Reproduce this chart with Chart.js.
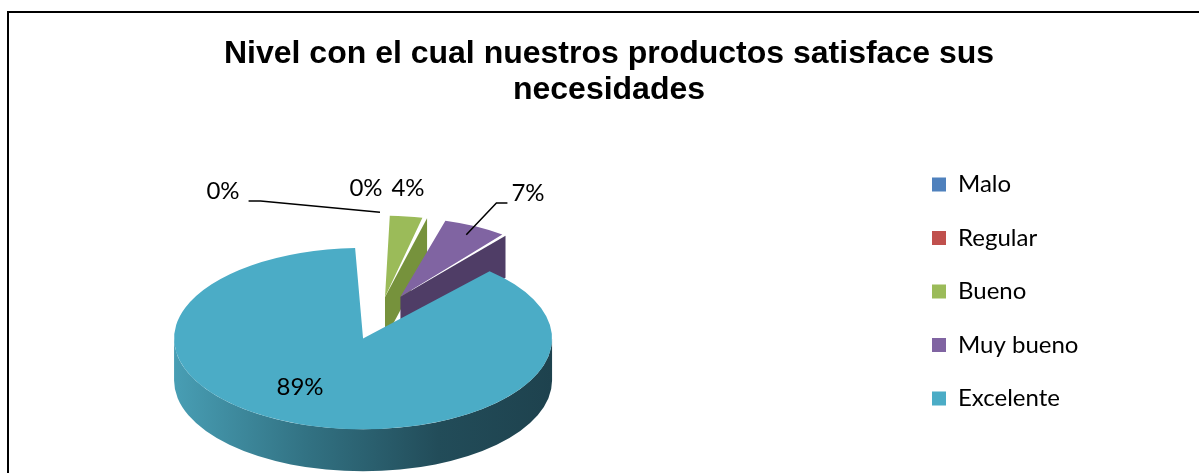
<!DOCTYPE html>
<html><head><meta charset="utf-8">
<script src="https://cdn.jsdelivr.net/npm/chart.js@4"></script>
<style>
html,body{margin:0;padding:0;background:#fff;overflow:hidden;width:1199px;height:473px;}
#frame{position:absolute;left:7px;top:11px;width:1300px;height:600px;border-left:2px solid #000;border-top:2px solid #000;box-sizing:border-box;}
#c{position:absolute;left:0;top:0;}
</style></head><body>
<div id="frame"></div>
<canvas id="c" width="1199" height="473"></canvas>
<script>
// ---- data ----
const categories = ['Malo', 'Regular', 'Bueno', 'Muy bueno', 'Excelente'];
const percentages = [0, 0, 4, 7, 89];
const titleLines = ['Nivel con el cual nuestros productos satisface sus', 'necesidades'];
const sliceColors = ['#4F81BD', '#C0504D', '#9BBB59', '#8064A2', '#4BACC6'];
const wallColors = ['#3A5F8C', '#8E3B39', '#76923C', '#4F3D66', '#2F6B7C'];

// ---- layout / style ----
const LEGEND_FONT = {family: 'Lato', size: 24};
const LABEL_FONT = {family: 'Lato', size: 24};
const LEGEND_PAD = 29.5;
const LEGEND_TOP_SPACE = 110;
const BOX = 14;
const LEGEND_BOX_X = 932;
const TITLE_CX = 609;
const PIE = {cx: 380, cy: 316, tilt: 0.48, depth: 42, radius: 139};
const sliceExplode = [200, 200, 160, 180, 200];
const labelLayout = [
  {dx: -157, dy: -125, leader: 1, gap: 9, run: 12},
  {dx: -14, dy: -128},
  {dx: 28, dy: -128},
  {dx: 148, dy: -123, leader: -1, gap: 4, run: 11},
  {dx: -80, dy: 71}
];

const mctx = document.createElement('canvas').getContext('2d');
mctx.font = LEGEND_FONT.size + 'px ' + LEGEND_FONT.family;
const maxText = Math.max(...categories.map(t => mctx.measureText(t).width));
const legendWidth = LEGEND_PAD + BOX + LEGEND_FONT.size / 2 + maxText + 10;
const legendLeft = LEGEND_BOX_X - LEGEND_PAD;
const padRight = 1199 - legendLeft - legendWidth;
const padLeft = 2 * TITLE_CX - 1199 + padRight;

function arcGeom(arc) {
  const p = arc.getProps(['x', 'y', 'startAngle', 'endAngle', 'outerRadius', 'circumference'], true);
  const off = (arc.options.offset || 0) / 4;
  const half = (p.startAngle + p.endAngle) / 2;
  const fix = 1 - Math.sin(Math.min(Math.PI, p.circumference || 0));
  return {x: p.x + Math.cos(half) * off, y: p.y + Math.sin(half) * off,
          r: p.outerRadius + off * fix, s: p.startAngle, e: p.endAngle, c: p.circumference};
}
function baseOf(chart) {
  const a = chart.getDatasetMeta(0).data[0];
  return {x: a.x, y: a.y};
}
function toScreen(chart, x, y) {
  const b = baseOf(chart);
  return [PIE.cx + (x - b.x), PIE.cy + (y - b.y) * PIE.tilt];
}

const pie3d = {
  id: 'pie3d',
  beforeDatasetsDraw(chart) {
    const ctx = chart.ctx;
    const b = baseOf(chart);
    ctx.save();
    ctx.translate(PIE.cx, PIE.cy);
    ctx.scale(1, PIE.tilt);
    ctx.translate(-b.x, -b.y);
    const D = PIE.depth / PIE.tilt;
    const meta = chart.getDatasetMeta(0);
    meta.data.forEach((arc, i) => {
      const g = arcGeom(arc);
      if (!g.c) return;
      const walls = [];
      if (Math.cos(g.e) > 0.001) walls.push(g.e);
      if (Math.cos(g.s) < -0.001) walls.push(g.s);
      walls.forEach(a => {
        const ox = g.x + Math.cos(a) * g.r, oy = g.y + Math.sin(a) * g.r;
        ctx.beginPath();
        ctx.moveTo(g.x, g.y); ctx.lineTo(ox, oy); ctx.lineTo(ox, oy + D); ctx.lineTo(g.x, g.y + D);
        ctx.closePath();
        ctx.fillStyle = wallColors[i];
        ctx.fill();
      });
      let fill = wallColors[i];
      if (i === 4) {
        const gr = ctx.createLinearGradient(g.x - g.r, 0, g.x + g.r, 0);
        gr.addColorStop(0, 'rgb(72,158,180)');
        gr.addColorStop(0.35, 'rgb(50,114,131)');
        gr.addColorStop(0.7, 'rgb(34,76,89)');
        gr.addColorStop(1, 'rgb(30,66,78)');
        fill = gr;
      }
      for (let k = -1; k <= 1; k++) {
        const lo = Math.max(g.s, 2 * Math.PI * k), hi = Math.min(g.e, 2 * Math.PI * k + Math.PI);
        if (hi > lo) {
          ctx.beginPath();
          ctx.arc(g.x, g.y, g.r, lo, hi);
          ctx.lineTo(g.x + Math.cos(hi) * g.r, g.y + Math.sin(hi) * g.r + D);
          ctx.arc(g.x, g.y + D, g.r, hi, lo, true);
          ctx.closePath();
          ctx.fillStyle = fill;
          ctx.fill();
        }
      }
    });
  },
  afterDatasetsDraw(chart) {
    chart.ctx.restore();
  }
};

const pieLabels = {
  id: 'pieLabels',
  afterDraw(chart) {
    const ctx = chart.ctx;
    const meta = chart.getDatasetMeta(0);
    ctx.save();
    ctx.font = LABEL_FONT.size + 'px ' + LABEL_FONT.family;
    ctx.fillStyle = '#000'; ctx.textAlign = 'center'; ctx.textBaseline = 'middle';
    ctx.strokeStyle = '#000'; ctx.lineWidth = 1.5;
    meta.data.forEach((arc, i) => {
      const L = labelLayout[i];
      const lx = PIE.cx + L.dx, ly = PIE.cy + L.dy;
      const text = percentages[i] + '%';
      ctx.fillText(text, lx, ly);
      if (L.leader) {
        const g = arcGeom(arc);
        const mid = (g.s + g.e) / 2;
        const [sx, sy] = toScreen(chart, g.x + Math.cos(mid) * g.r * 0.88, g.y + Math.sin(mid) * g.r * 0.88);
        const w = ctx.measureText(text).width;
        const x0 = lx + L.leader * (w / 2 + L.gap), y0 = ly + 10;
        ctx.beginPath(); ctx.moveTo(x0, y0); ctx.lineTo(x0 + L.leader * L.run, y0); ctx.lineTo(sx, sy); ctx.stroke();
      }
    });
    ctx.restore();
  }
};

new Chart(document.getElementById('c'), {
  type: 'pie',
  data: {
    labels: categories,
    datasets: [{data: percentages, backgroundColor: sliceColors, borderWidth: 0,
      offset: sliceExplode, hoverOffset: 0, radius: PIE.radius, clip: false}]
  },
  options: {
    responsive: false, animation: false, devicePixelRatio: 1, events: [],
    layout: {padding: {left: padLeft, right: padRight, top: 0, bottom: 0}},
    plugins: {
      title: {display: true, text: titleLines, color: '#000',
        font: {family: 'Liberation Sans', size: 32, weight: 'bold', lineHeight: '36px'},
        padding: {top: 36, bottom: 3}},
      legend: {position: 'right',
        title: {display: true, text: '', font: {size: 10, lineHeight: '10px'},
          padding: {top: LEGEND_TOP_SPACE - 10, bottom: 0}},
        labels: {boxWidth: BOX, boxHeight: BOX, padding: LEGEND_PAD, color: '#000', font: LEGEND_FONT}},
      tooltip: {enabled: false}
    }
  },
  plugins: [pie3d, pieLabels]
});
</script>
</body></html>
